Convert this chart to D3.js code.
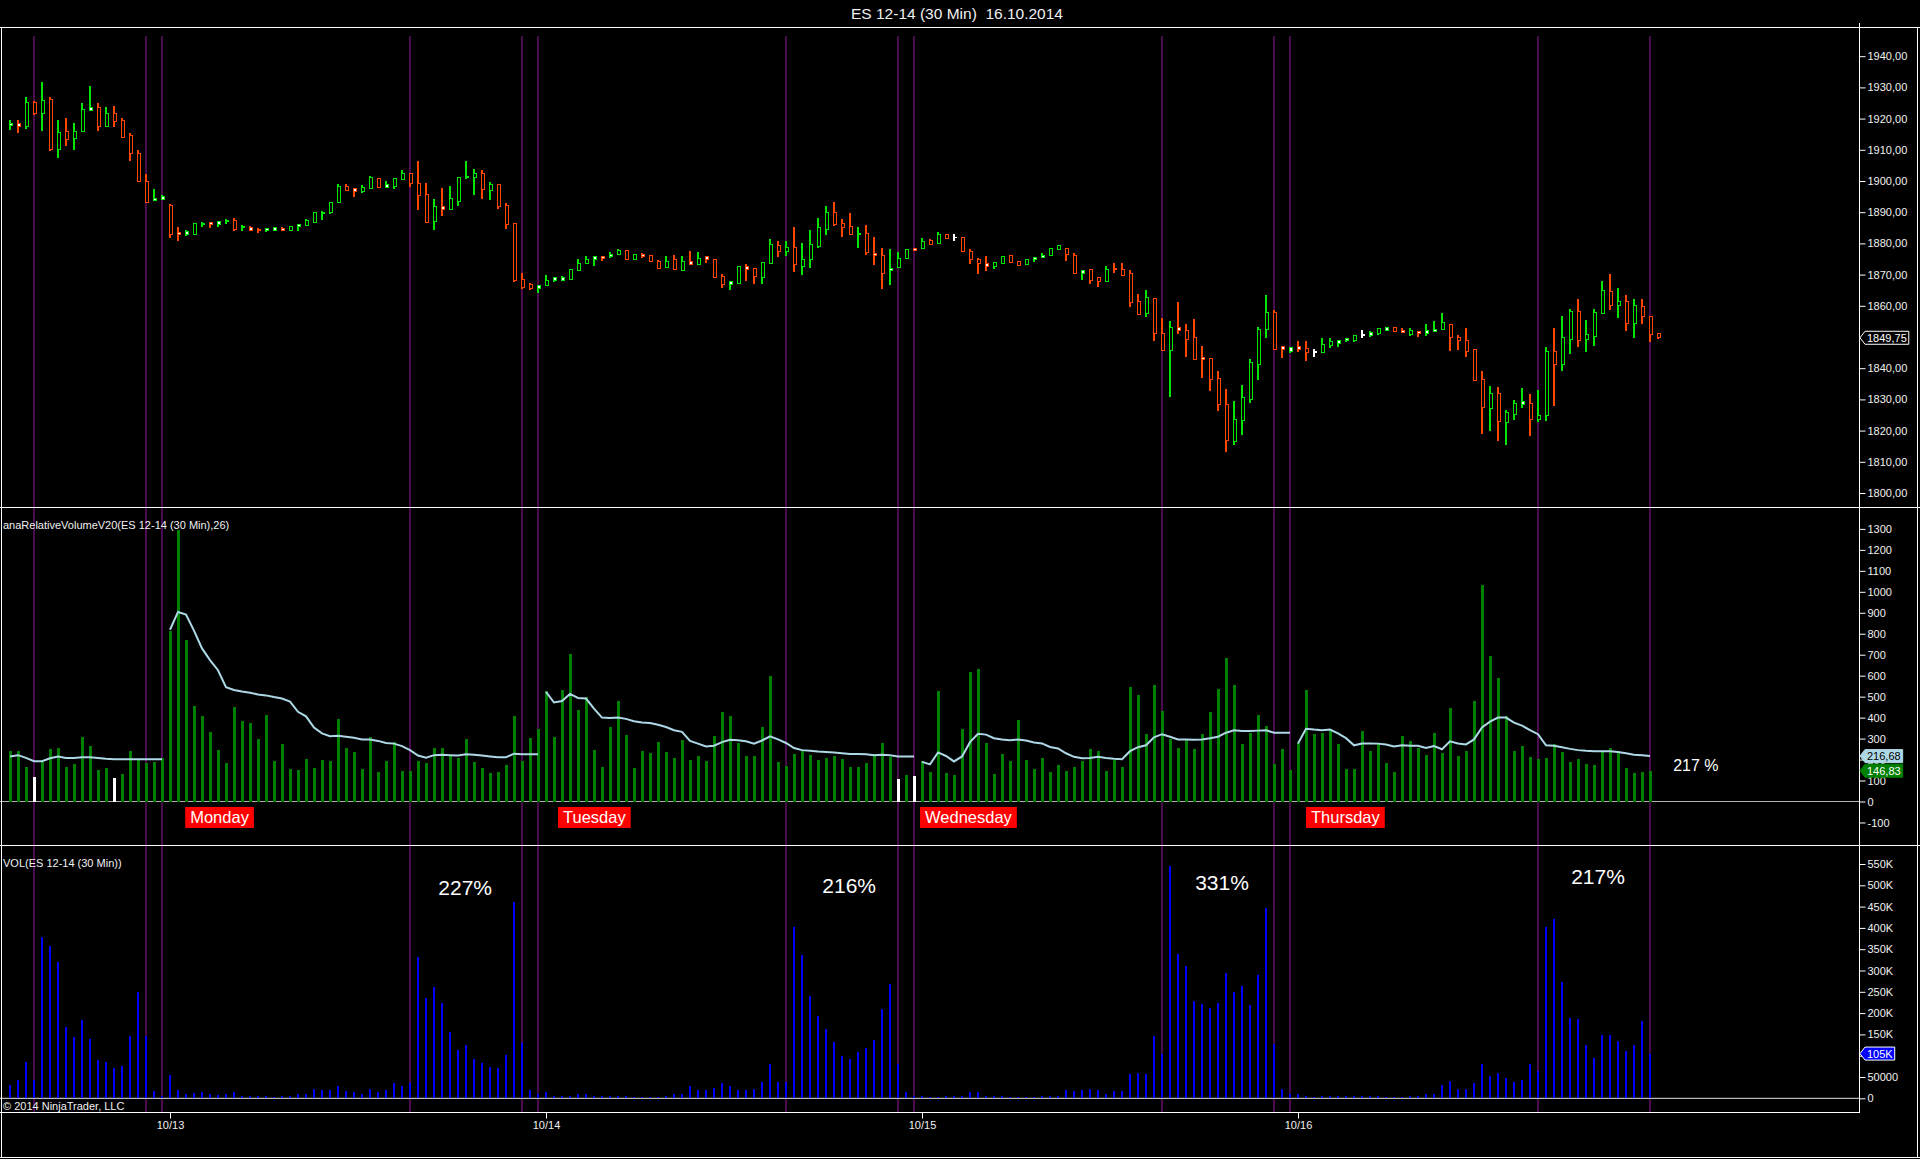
<!DOCTYPE html>
<html>
<head>
<meta charset="utf-8">
<title>ES 12-14 (30 Min) 16.10.2014</title>
<script src="https://cdnjs.cloudflare.com/ajax/libs/d3/7.8.5/d3.min.js"></script>
<style>
  html, body { margin: 0; padding: 0; background: #000; overflow: hidden; }
  svg { display: block; font-family: Arial, "Liberation Sans", sans-serif; }
</style>
</head>
<body>
<svg id="chart" width="1920" height="1159"></svg>
<script>

// ---- price bars (30 min), one value per bar ----
var opens = [1917.75,1918.5,1917.5,1925.25,1921.5,1926,1910.25,1915.75,1913.5,1915.75,
  1922.75,1923.5,1917.5,1921.75,1919.5,1914.5,1908.75,1900,1893.75,1894,
  1892.25,1883.5,1883,1882.75,1886,1886.75,1886,1887,1887.5,1885,
  1885,1884.5,1884,1884.25,1884.75,1884,1885.5,1885.75,1886.75,1889.5,
  1889.75,1893,1898.25,1897.5,1896.5,1897.5,1900.75,1898,1898.25,1900.5,
  1902.25,1899.25,1895.75,1887,1891.75,1890.75,1893.5,1901,1901,1902.25,
  1897,1899,1892,1886.25,1868.5,1866.75,1865.5,1866.5,1868,1868.25,
  1868.5,1871.25,1873.5,1874.75,1875.75,1875.75,1876.5,1877.75,1875,1876.5,
  1876.25,1874.25,1872.25,1874.75,1871.25,1874.25,1873.25,1875.75,1875,1869.5,
  1866.75,1867.25,1872.5,1872,1869,1873.5,1879.25,1877.25,1878.75,1872.75,
  1874.75,1879,1884.5,1890,1886.25,1885.5,1882.75,1883.25,1876.75,1876,
  1871.25,1872.25,1875.25,1878.25,1878.5,1881,1880,1882.75,1882,1881.75,
  1877.5,1875,1873.5,1872.5,1873.5,1876,1874.25,1873.25,1874.75,1875.5,
  1876,1878,1878.5,1876.25,1870.25,1871.5,1869,1867.75,1872,1871.5,
  1870.25,1861.25,1857.5,1862.5,1851.25,1845.75,1853,1852,1849.75,1843.5,
  1843,1836.75,1828.25,1816.5,1823.25,1830,1841.25,1852.5,1857.75,1847,
  1845.5,1847,1846.25,1845.25,1845,1847.25,1848,1848.75,1848.75,1850.75,
  1850.5,1851,1852,1853,1852,1850.75,1851.75,1851,1851.75,1852.5,
  1854,1850,1849,1846,1836.5,1827,1831.75,1822.5,1825.25,1828.5,
  1828.75,1823.5,1824.75,1845.5,1841.25,1849.25,1858.25,1849.25,1850.25,1857.5,
  1864.5,1860,1861.25,1854.25,1859.75,1856.5,1851.25];

var highs = [1919.5,1919.5,1927,1925.75,1931.75,1927,1919.5,1920.25,1918.5,1925,
  1930.5,1925,1923.75,1924,1920.25,1915.5,1910,1902.25,1897.5,1895.5,
  1892.75,1885.25,1884.25,1886.5,1886.75,1887,1887.25,1887.75,1888,1886,
  1885.5,1885,1885,1885.25,1885.25,1885.5,1886.25,1887.75,1890,1890.5,
  1893.25,1899,1899,1897.75,1898.75,1901.5,1901,1900,1901,1903.5,
  1902.25,1906.5,1899.25,1894.25,1897.75,1898.5,1901.25,1906.5,1903.75,1903.5,
  1899.75,1899,1893,1886.25,1870.5,1867.25,1866.75,1869.75,1869.25,1869.5,
  1871.75,1875,1876,1876,1876,1877.25,1878.25,1878,1876.5,1877,
  1876.25,1874.75,1876,1876.25,1876,1877.5,1877.25,1876,1875,1870.25,
  1868,1872.75,1873.5,1872.25,1874,1881.5,1880.75,1880.75,1885.25,1880,
  1884.25,1888,1892,1893.25,1887.75,1889.75,1885.25,1886,1882,1878.5,
  1878.25,1877.25,1878.25,1878.5,1881.75,1881.5,1883.75,1883,1883,1881.75,
  1878.25,1875.25,1876,1874,1876,1876.25,1874.25,1875,1875.75,1877,
  1878.5,1879.5,1878.5,1877,1871.5,1871.5,1869.25,1872.75,1873.75,1873.75,
  1871.5,1863.75,1865,1862.5,1856,1855,1861.25,1854.25,1855.75,1847,
  1843.25,1839,1833.25,1829.5,1834.5,1843,1853.25,1863.5,1858.75,1847.25,
  1846.75,1848.75,1848.75,1846.25,1849.75,1849.75,1849,1849.75,1850.75,1852.25,
  1852,1853,1853.25,1853.25,1853,1853,1852,1854.25,1855,1857.75,
  1854.25,1850.75,1853,1846.25,1839,1834.25,1834,1826.5,1829.75,1833.75,
  1831.75,1833,1846.75,1853,1856.75,1859,1862.25,1855.5,1859,1868,
  1870.25,1865.75,1863.5,1862.25,1862.25,1856.75,1851.25];

var lows = [1916.25,1915.25,1916.75,1921,1916,1909.5,1907.25,1911.25,1910,1915.75,
  1922.5,1916,1917.25,1917.25,1913.75,1906.5,1899.75,1893.25,1893.5,1894,
  1881.75,1880.75,1882.5,1882.75,1885.25,1885,1885.25,1886.25,1884,1884,
  1884,1883.25,1883.75,1884,1884,1884,1884,1885.5,1886.5,1887.5,
  1889.5,1893,1896.75,1894.75,1896,1897.5,1897.75,1897.75,1897.5,1900.25,
  1898,1890.75,1886.5,1884.25,1888.75,1890.75,1892,1900.75,1895.5,1894.25,
  1894,1891,1884.5,1867.75,1865.5,1865,1864,1866.25,1867.5,1868,
  1868.5,1871.25,1873.5,1872.75,1874.25,1875.25,1876.25,1874.75,1874.75,1875.25,
  1874,1871.75,1872,1871.5,1871.25,1873,1873,1873.75,1869,1865.75,
  1865,1867,1868,1867,1867,1873.5,1875.75,1876,1870.75,1869.75,
  1872,1878.5,1882.75,1885.5,1882,1882.75,1878.5,1876.25,1873,1865.5,
  1866.75,1872,1875,1877.5,1878.25,1879.5,1879.75,1881.5,1880.75,1877.25,
  1873.5,1870.25,1871.25,1871.75,1873.5,1873.75,1872.75,1873,1874,1875.25,
  1876,1877.75,1874.25,1870.25,1868.25,1867,1866,1867.5,1870.5,1869.5,
  1859.5,1857.25,1856.5,1848.75,1845.75,1830.75,1851,1843.5,1842.5,1836.75,
  1832.75,1826.25,1813.25,1815.5,1818.5,1828.75,1836.25,1849.75,1845.75,1843.25,
  1844.75,1845.25,1842.25,1843.5,1844.75,1846.5,1846.75,1848.5,1848.5,1849.75,
  1850,1850.75,1852,1851.5,1851.25,1850.25,1850,1850.25,1851.5,1852.25,
  1845.5,1845.75,1843.5,1836,1819,1819.75,1816.75,1815.5,1823.5,1827.25,
  1818.25,1822.75,1823,1827.75,1839,1844.5,1846.75,1845.25,1847,1857.25,
  1858.75,1856,1852,1849.75,1854.25,1848.25,1849.25];

var closes = [1918.5,1917.5,1925.25,1921.5,1925.75,1910,1915.5,1913.25,1916,1923,
  1923.5,1917.5,1921.5,1919,1914,1908.75,1899.75,1893.25,1894.5,1895,
  1882.75,1883,1883.75,1886.25,1886.5,1886,1887,1887.5,1884.5,1885.5,
  1884.25,1884,1884.75,1885,1884.25,1885.5,1886,1887.5,1889.75,1890,
  1893,1898.25,1897,1896.5,1898,1901,1898,1898.75,1900.75,1902.25,
  1899.25,1895.25,1886.75,1891.75,1890.75,1894.25,1901,1901.5,1902.25,1897.25,
  1899,1891.75,1886,1868,1866,1865.5,1866.5,1868,1869,1869,
  1871.75,1873.5,1875,1875.75,1875.25,1876.5,1877.75,1874.75,1876.5,1875.75,
  1874.25,1872,1874.25,1871.5,1874.25,1873.25,1875.25,1874.75,1869,1866.75,
  1867.75,1872.5,1871.5,1869.25,1874,1879.5,1877.25,1878.75,1873.25,1875,
  1879.75,1885,1890,1886,1885,1882.75,1883.25,1877,1876,1870.5,
  1872,1875.25,1878,1877.75,1880.75,1879.75,1883,1881.5,1882,1877.5,
  1875,1873.5,1872.75,1873.75,1875.75,1873.75,1873,1875,1875.5,1876.25,
  1878.25,1879.25,1876.5,1870.25,1871.25,1868,1867.75,1871.5,1871.5,1869.75,
  1861,1857.25,1862.75,1851,1845.75,1853,1852,1849.25,1842.75,1842.75,
  1836.5,1828.25,1816.75,1823.5,1830.5,1841.75,1852.5,1857.75,1846,1846,
  1846.5,1846,1845,1845.25,1847.5,1848.5,1848.75,1849.5,1850.5,1850.75,
  1851.5,1852.75,1853,1851.75,1851.5,1852,1851.25,1852,1852.5,1854.5,
  1850,1848.75,1845.25,1836,1827.25,1832,1823,1825.75,1828.75,1829.25,
  1823.5,1825,1845.25,1841.25,1849.75,1858.25,1849,1850.75,1857.75,1864.75,
  1860,1861.25,1854.25,1860,1856.5,1850.75,1849.75];

// ---- anaRelativeVolumeV20 (%), bars 0..205 ----
var relVol = [240,240,164,117,187,249,255,164,179,306,
  264,149,159,111,130,240,196,183,187,208,
  815,1296,772,457,408,330,245,183,449,383,
  374,298,411,192,274,155,149,202,159,196,
  192,392,255,236,155,306,140,192,283,145,
  145,192,183,255,255,221,208,298,187,159,
  136,140,174,408,192,302,345,526,306,530,
  704,436,498,245,164,355,479,317,159,240,
  230,283,236,208,292,196,217,192,311,426,
  408,277,217,217,355,598,187,168,226,240,
  221,196,208,217,202,164,164,183,226,277,
  211,108,126,121,192,140,526,136,126,345,
  617,632,277,130,226,192,389,196,155,208,
  140,174,145,164,192,249,240,145,198,164,
  545,508,321,555,430,298,255,298,249,321,
  426,536,683,555,274,326,411,359,177,249,
  149,277,530,321,326,345,274,155,155,336,
  240,277,183,140,311,289,255,221,326,230,
  445,217,240,479,1032,693,589,409,240,264,
  211,202,208,274,236,187,202,177,174,242,
  254,233,160,136,141,146.83];

// average line of the relative volume
var relAvg = [215,221,208,192,192,206,215,208,208,211,
  211,208,204,202,202,202,202,202,202,202,
  819,904,891,815,730,674,626,545,532,525,
  519,510,506,498,491,476,428,406,353,325,
  311,313,309,304,296,296,289,279,276,264,
  245,219,209,221,223,221,219,225,223,219,
  215,211,211,228,225,225,225,523,472,479,
  513,494,491,443,400,398,400,394,383,377,
  374,366,355,340,332,289,276,262,266,283,
  294,292,287,276,291,311,296,279,255,245,
  242,238,236,234,230,226,226,225,221,223,
  221,215,215,215,189,177,234,217,191,215,
  283,323,319,302,296,292,296,291,281,277,
  260,253,230,213,206,208,213,208,204,202,
  240,259,268,306,321,309,296,296,294,296,
  302,309,328,340,336,336,338,340,328,328,
  328,277,347,343,340,343,325,302,268,277,
  277,276,272,262,268,266,266,255,264,249,
  287,277,272,296,353,381,400,400,376,362,
  340,321,268,266,259,251,245,242,240,240,
  240,236,230,223,221,216.68];

// ---- VOL, in thousands of contracts, bars 0..205 ----
var volK = [32,42,85,42,379,358,319,168,145,184,
  139,89,85,70,76,147,250,147,16,6,
  55,20,11,13,14,9,8,9,14,6,
  5,5,5,3,5,6,11,11,23,20,
  20,30,16,14,11,23,14,19,37,28,
  37,332,235,261,224,155,113,124,93,82,
  73,71,102,460,129,20,11,14,5,5,
  6,11,9,6,5,6,6,5,3,3,
  3,4,5,10,11,28,20,19,24,35,
  28,20,19,23,39,80,39,39,403,337,
  240,194,162,133,99,92,108,118,138,210,
  269,81,14,5,6,3,3,5,5,6,
  14,14,6,5,5,3,3,3,3,5,
  6,6,20,16,20,23,20,11,16,16,
  56,59,56,147,104,546,338,310,229,222,
  213,224,295,250,264,219,289,447,127,23,
  11,9,6,3,5,6,5,5,5,6,
  5,5,3,3,3,5,5,9,9,32,
  41,23,23,37,81,53,59,48,39,44,
  81,65,403,421,273,189,187,124,94,148,
  148,134,111,125,181,105];

// session markers, breaks of the average line, white rel-vol bars
var sessionMarks = [3, 17, 19, 50, 64, 66, 97, 111, 113, 144, 158, 160, 191, 205];
var sessionStarts = [0, 20, 67, 114, 161];
var whiteBars = [3, 13, 111, 113];

// x axis dates
var dateBars = [20, 67, 114, 161];
var dateLabels = ['10/13', '10/14', '10/15', '10/16'];

// weekday boxes under the rel-vol panel
var dayNames = ['Monday', 'Tuesday', 'Wednesday', 'Thursday'];
var dayBars = [21.9, 68.5, 113.75, 162];

// percent notes in the volume panel (bar, volume level)
var pctTexts = ['227%', '216%', '331%', '217%'];
var pctBars = [56.9, 104.9, 151.5, 198.5];
var pctLevels = [477000, 483000, 488000, 503000];

// ---------------------------------------------------------------
var width = 1920, height = 1159;
var axisX = 1859;
var panelTop = 27, sep1 = 507, sep2 = 845, plotBottom = 1112;

var upColor = '#00e600', downColor = '#ff4500';
var sessionColor = '#4b0b4e';
var textColor = '#f0f0f0';

var svg = d3.select('#chart');
svg.append('rect').attr('width', width).attr('height', height).attr('fill', '#000');

var x = d3.scaleLinear().domain([0, 206]).range([10, 1658]);
var yPrice = d3.scaleLinear().domain([1800, 1940]).range([493, 56.2]);
var yRel = d3.scaleLinear().domain([0, 1300]).range([801.5, 528.9]);
var yVol = d3.scaleLinear().domain([0, 550000]).range([1098.3, 864]);

var comma = function (v, f) { return d3.format(f)(v).replace('.', ','); };

// title (keeps the double space)
svg.append('text')
  .attr('x', 957).attr('y', 19)
  .attr('text-anchor', 'middle')
  .attr('fill', textColor)
  .attr('xml:space', 'preserve')
  .style('white-space', 'pre')
  .style('font-size', '15.5px')
  .text('ES 12-14 (30 Min)  16.10.2014');

// session lines behind everything
svg.append('g')
  .selectAll('rect')
  .data(sessionMarks)
  .enter().append('rect')
  .attr('x', function (d) { return Math.round(x(d)) - 1; })
  .attr('y', 36)
  .attr('width', 2)
  .attr('height', plotBottom - 36)
  .attr('fill', sessionColor);

// zero lines
svg.append('line')
  .attr('x1', 0).attr('x2', axisX).attr('y1', yRel(0)).attr('y2', yRel(0))
  .attr('stroke', '#b4b4b4').attr('stroke-width', 1.2);
svg.append('line')
  .attr('x1', 0).attr('x2', axisX).attr('y1', yVol(0)).attr('y2', yVol(0))
  .attr('stroke', '#b4b4b4').attr('stroke-width', 1.2);

// ---- candles ----
var bars = opens.map(function (o, i) {
  return { i: i, o: o, h: highs[i], l: lows[i], c: closes[i] };
});
var colorOf = function (d) {
  if (d.c === d.o) return '#ffffff';
  return d.c > d.o ? upColor : downColor;
};

var candle = svg.append('g').attr('class', 'candles')
  .attr('shape-rendering', 'crispEdges')
  .selectAll('g')
  .data(bars)
  .enter().append('g');

candle.append('rect')
  .attr('x', function (d) { return Math.round(x(d.i)) - 1; })
  .attr('y', function (d) { return yPrice(d.h); })
  .attr('width', 2)
  .attr('height', function (d) { return Math.max(1, yPrice(d.l) - yPrice(d.h)); })
  .attr('fill', colorOf);

// hollow bodies, doji get a small tick
candle.filter(function (d) { return d.o !== d.c; })
  .append('rect')
  .attr('x', function (d) { return Math.round(x(d.i)) - 0.5; })
  .attr('y', function (d) { return yPrice(Math.max(d.o, d.c)); })
  .attr('width', 3)
  .attr('height', function (d) { return Math.max(1, Math.abs(yPrice(d.o) - yPrice(d.c))); })
  .attr('fill', function (d) { return Math.abs(d.o - d.c) <= 1 ? '#ffffff' : '#000'; })
  .attr('stroke', colorOf)
  .attr('stroke-width', 1);

candle.filter(function (d) { return d.o === d.c; })
  .append('rect')
  .attr('x', function (d) { return Math.round(x(d.i)) - 1; })
  .attr('y', function (d) { return yPrice(d.o) - 0.5; })
  .attr('width', 4)
  .attr('height', 1.5)
  .attr('fill', '#ffffff');

// ---- relative volume ----
svg.append('g')
  .attr('shape-rendering', 'crispEdges')
  .selectAll('rect')
  .data(relVol)
  .enter().append('rect')
  .attr('x', function (d, i) { return Math.round(x(i)) - 1; })
  .attr('y', function (d) { return yRel(d); })
  .attr('width', 3)
  .attr('height', function (d) { return yRel(0) - yRel(d); })
  .attr('fill', function (d, i) { return whiteBars.indexOf(i) >= 0 ? '#ffffff' : '#008000'; });

var avgLine = d3.line()
  .x(function (d) { return x(d.i); })
  .y(function (d) { return yRel(d.v); });

sessionStarts.forEach(function (s, k) {
  var e = k + 1 < sessionStarts.length ? sessionStarts[k + 1] : relAvg.length;
  var seg = d3.range(s, e).map(function (i) { return { i: i, v: relAvg[i] }; });
  svg.append('path')
    .datum(seg)
    .attr('d', avgLine)
    .attr('fill', 'none')
    .attr('stroke', '#add8e6')
    .attr('stroke-width', 2);
});

// ---- volume ----
svg.append('g')
  .attr('shape-rendering', 'crispEdges')
  .selectAll('rect')
  .data(volK)
  .enter().append('rect')
  .attr('x', function (d, i) { return Math.round(x(i)) - 1; })
  .attr('y', function (d) { return yVol(d * 1000); })
  .attr('width', 2)
  .attr('height', function (d) { return yVol(0) - yVol(d * 1000); })
  .attr('fill', '#0000ff');

// ---- frame ----
var frame = svg.append('g').attr('stroke', '#ffffff').attr('stroke-width', 1)
  .attr('shape-rendering', 'crispEdges');
frame.append('line').attr('x1', 0).attr('x2', width).attr('y1', panelTop + 0.5).attr('y2', panelTop + 0.5);
frame.append('line').attr('x1', 0).attr('x2', width).attr('y1', sep1 + 0.5).attr('y2', sep1 + 0.5);
frame.append('line').attr('x1', 0).attr('x2', width).attr('y1', sep2 + 0.5).attr('y2', sep2 + 0.5);
frame.append('line').attr('x1', 0).attr('x2', axisX).attr('y1', plotBottom + 0.5).attr('y2', plotBottom + 0.5);
frame.append('line').attr('x1', 0).attr('x2', width).attr('y1', height - 1.5).attr('y2', height - 1.5);
frame.append('line').attr('x1', 1.5).attr('x2', 1.5).attr('y1', panelTop).attr('y2', height - 1);
frame.append('line').attr('x1', width - 2.5).attr('x2', width - 2.5).attr('y1', panelTop).attr('y2', height - 1);
frame.append('line').attr('x1', axisX + 0.5).attr('x2', axisX + 0.5).attr('y1', 23).attr('y2', plotBottom + 1);

// ---- right axes ----
function styleAxis(g) {
  g.select('.domain').remove();
  g.selectAll('.tick line').attr('stroke', '#ffffff');
  g.selectAll('.tick text')
    .attr('fill', textColor)
    .style('font-size', '11px')
    .style('font-family', 'Arial, "Liberation Sans", sans-serif');
}

svg.append('g')
  .attr('transform', 'translate(' + (axisX + 0.5) + ',0)')
  .call(d3.axisRight(yPrice)
    .tickValues(d3.range(1800, 1941, 10))
    .tickSize(6).tickPadding(2)
    .tickFormat(function (d) { return comma(d, '.2f'); }))
  .call(styleAxis);

svg.append('g')
  .attr('transform', 'translate(' + (axisX + 0.5) + ',0)')
  .call(d3.axisRight(yRel)
    .tickValues(d3.range(-100, 1301, 100))
    .tickSize(6).tickPadding(2)
    .tickFormat(function (d) { return d; }))
  .call(styleAxis);

svg.append('g')
  .attr('transform', 'translate(' + (axisX + 0.5) + ',0)')
  .call(d3.axisRight(yVol)
    .tickValues(d3.range(0, 550001, 50000))
    .tickSize(6).tickPadding(2)
    .tickFormat(function (d) { return d >= 100000 ? (d / 1000) + 'K' : d; }))
  .call(styleAxis);

// x axis with dates
svg.append('g')
  .attr('transform', 'translate(0,' + (plotBottom + 0.5) + ')')
  .call(d3.axisBottom(x)
    .tickValues(dateBars)
    .tickSize(6).tickPadding(3)
    .tickFormat(function (d, i) { return dateLabels[i]; }))
  .call(styleAxis);

// value markers on the axis
function marker(y, label, fill, stroke, ink) {
  var g = svg.append('g');
  var poly = g.append('path');
  var t = g.append('text')
    .attr('x', axisX + 8).attr('y', y + 4)
    .attr('fill', ink)
    .style('font-size', '11px')
    .text(label);
  var w = t.node().getComputedTextLength() + 4;
  var x0 = axisX + 1, x1 = axisX + 6;
  poly.attr('d', 'M' + x0 + ',' + y + 'L' + x1 + ',' + (y - 6.5) + 'L' + (x1 + w) + ',' + (y - 6.5) +
      'L' + (x1 + w) + ',' + (y + 6.5) + 'L' + x1 + ',' + (y + 6.5) + 'Z')
    .attr('fill', fill).attr('stroke', stroke).attr('stroke-width', 1);
}

var last = closes.length - 1, lastInd = relVol.length - 1;
marker(yPrice(closes[last]), comma(closes[last], '.2f'), '#000', '#ffffff', '#ffffff');
marker(yRel(relAvg[lastInd]), comma(relAvg[lastInd], '.2f'), '#add8e6', '#add8e6', '#000');
marker(yRel(relVol[lastInd]), comma(relVol[lastInd], '.2f'), '#008000', '#008000', '#ffffff');
marker(yVol(volK[lastInd] * 1000), volK[lastInd] + 'K', '#0000ff', '#ffffff', '#ffffff');

// ---- texts ----
svg.append('text')
  .attr('x', 3).attr('y', 529)
  .attr('fill', textColor).style('font-size', '11px')
  .text('anaRelativeVolumeV20(ES 12-14 (30 Min),26)');

svg.append('text')
  .attr('x', 3).attr('y', 867)
  .attr('fill', textColor).style('font-size', '11px')
  .text('VOL(ES 12-14 (30 Min))');

svg.append('text')
  .attr('x', 3).attr('y', 1110)
  .attr('fill', textColor).style('font-size', '11px')
  .text('\u00a9 2014 NinjaTrader, LLC');

// weekday boxes
dayNames.forEach(function (name, i) {
  var g = svg.append('g');
  var top = yRel(-26);
  var t = g.append('text')
    .attr('x', x(dayBars[i]) + 5).attr('y', top + 16)
    .attr('fill', '#ffffff')
    .style('font-size', '16.5px')
    .text(name);
  var w = t.node().getComputedTextLength() + 10;
  g.insert('rect', 'text')
    .attr('x', x(dayBars[i])).attr('y', top)
    .attr('width', w).attr('height', 21)
    .attr('fill', '#ff0000');
});

// percent notes
svg.append('g')
  .selectAll('text')
  .data(pctTexts)
  .enter().append('text')
  .attr('x', function (d, i) { return x(pctBars[i]); })
  .attr('y', function (d, i) { return yVol(pctLevels[i]); })
  .attr('text-anchor', 'middle')
  .attr('fill', '#ffffff')
  .style('font-size', '21px')
  .text(function (d) { return d; });

svg.append('text')
  .attr('x', x(207.9)).attr('y', yRel(145))
  .attr('fill', '#ffffff')
  .style('font-size', '16px')
  .text('217 %');

</script>
</body>
</html>
